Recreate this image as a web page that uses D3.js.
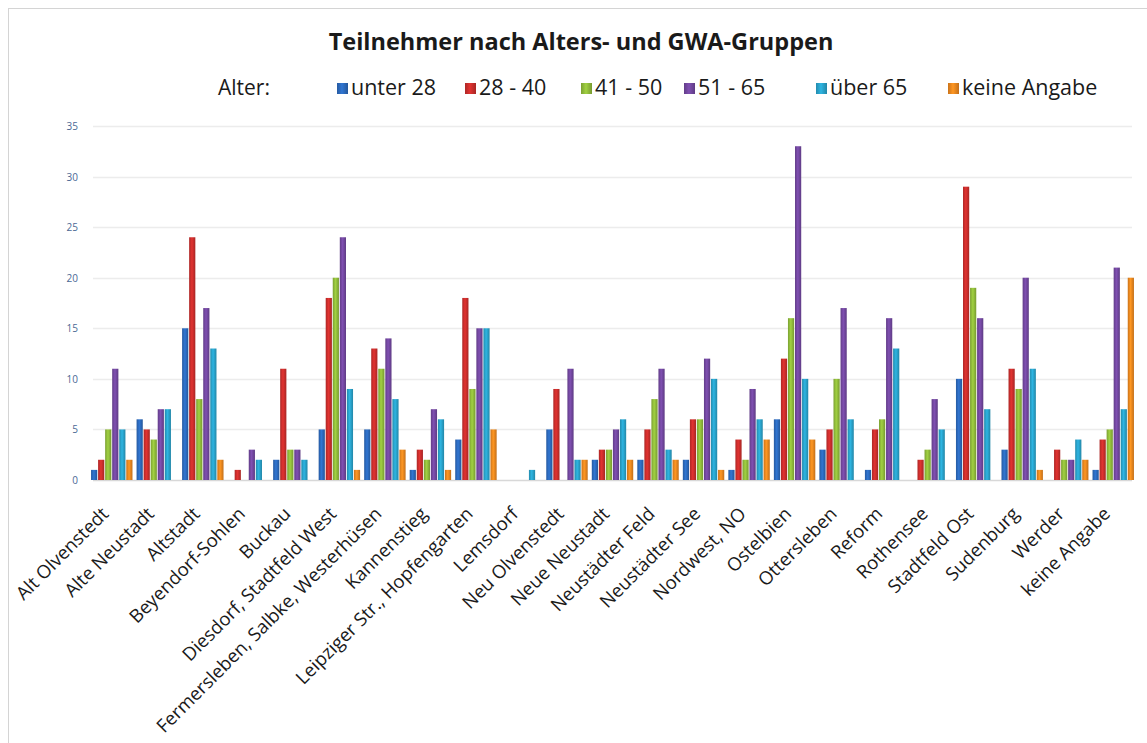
<!DOCTYPE html>
<html>
<head>
<meta charset="utf-8">
<script src="https://cdn.jsdelivr.net/npm/d3@7"></script>
<style>
	body { margin: 0; background: #fff; }
	text { font-family: 'Open Sans', Lato, sans-serif; }
</style>
</head>
<body>
<div id="chart_div" style="width:1147px;height:743px;"></div>
<script>
// chart data
var districts = [
	'Alt Olvenstedt', 'Alte Neustadt', 'Altstadt', 'Beyendorf-Sohlen', 'Buckau',
	'Diesdorf, Stadtfeld West', 'Fermersleben, Salbke, Westerhüsen', 'Kannenstieg',
	'Leipziger Str., Hopfengarten', 'Lemsdorf', 'Neu Olvenstedt', 'Neue Neustadt',
	'Neustädter Feld', 'Neustädter See', 'Nordwest, NO', 'Ostelbien', 'Ottersleben',
	'Reform', 'Rothensee', 'Stadtfeld Ost', 'Sudenburg', 'Werder', 'keine Angabe'
];
var age_groups = ['unter 28', '28 - 40', '41 - 50', '51 - 65', 'über 65', 'keine Angabe'];
var under_28 = [1, 6, 15, 0, 2, 5, 5, 1, 4, 0, 5, 2, 2, 2, 1, 6, 3, 1, 0, 10, 3, 0, 1];
var age_28_40 = [2, 5, 24, 1, 11, 18, 13, 3, 18, 0, 9, 3, 5, 6, 4, 12, 5, 5, 2, 29, 11, 3, 4];
var age_41_50 = [5, 4, 8, 0, 3, 20, 11, 2, 9, 0, 0, 3, 8, 6, 2, 16, 10, 6, 3, 19, 9, 2, 5];
var age_51_65 = [11, 7, 17, 3, 3, 24, 14, 7, 15, 0, 11, 5, 11, 12, 9, 33, 17, 16, 8, 16, 20, 2, 21];
var over_65 = [5, 7, 13, 2, 2, 9, 8, 6, 15, 1, 2, 6, 3, 10, 6, 10, 6, 13, 5, 7, 11, 4, 7];
var no_answer = [2, 0, 2, 0, 0, 1, 3, 1, 5, 0, 2, 2, 2, 1, 4, 4, 0, 0, 0, 0, 1, 2, 20];
var y_ticks = [0, 5, 10, 15, 20, 25, 30, 35];
var bar_colours = ['#2d6cc0', '#cf2f2d', '#93bf3c', '#7549a3', '#2aa6cf', '#f28a1f'];

var series = [under_28, age_28_40, age_41_50, age_51_65, over_65, no_answer];

function draw_chart() {
	var svg = d3.select('#chart_div')
		.append('svg')
		.attr('width', 1147)
		.attr('height', 743);

	// frame
	svg.append('rect')
		.attr('x', 8.5)
		.attr('y', 8.5)
		.attr('width', 1150)
		.attr('height', 750)
		.attr('fill', 'none')
		.attr('stroke', '#d4d4d4');

	var x = d3.scaleBand()
		.domain(districts)
		.range([89, 1136])
		.paddingInner(0.09)
		.paddingOuter(0.045);
	var x_inner = d3.scaleBand()
		.domain(d3.range(age_groups.length))
		.range([0, x.bandwidth()])
		.paddingInner(0.12);
	var y = d3.scaleLinear().domain([0, 35]).range([480, 126]);

	// bar shading
	var defs = svg.append('defs');
	bar_colours.forEach(function (c, i) {
		var grad = defs.append('linearGradient')
			.attr('id', 'bar_grad_' + i)
			.attr('x1', '0%').attr('x2', '100%')
			.attr('y1', '0%').attr('y2', '0%');
		grad.append('stop').attr('offset', '0%').attr('stop-color', d3.color(c).darker(0.5));
		grad.append('stop').attr('offset', '45%').attr('stop-color', d3.color(c).brighter(0.25));
		grad.append('stop').attr('offset', '100%').attr('stop-color', d3.color(c).darker(0.6));
	});

	// grid + y labels
	svg.append('g')
		.selectAll('line')
		.data(y_ticks)
		.enter()
		.append('line')
		.attr('x1', 93)
		.attr('x2', 1132)
		.attr('y1', (d) => Math.round(y(d)) + 0.5)
		.attr('y2', (d) => Math.round(y(d)) + 0.5)
		.attr('stroke', (d) => (d === 0 ? '#d8d8d8' : '#ececec'))
		.attr('stroke-width', 1.5);

	svg.append('g')
		.selectAll('text')
		.data(y_ticks)
		.enter()
		.append('text')
		.attr('x', 78)
		.attr('y', (d) => y(d) + 4)
		.attr('text-anchor', 'end')
		.attr('font-size', 10)
		.attr('fill', '#4a6894')
		.text((d) => d);

	// bars
	var groups = svg.append('g')
		.selectAll('g')
		.data(districts)
		.enter()
		.append('g')
		.attr('transform', (d) => 'translate(' + x(d) + ',0)');

	groups.selectAll('rect')
		.data(function (d, i) {
			return series.map((s, k) => ({ k: k, value: s[i] }));
		})
		.enter()
		.filter((d) => d.value > 0)
		.append('rect')
		.attr('x', (d) => x_inner(d.k))
		.attr('y', (d) => y(d.value))
		.attr('width', x_inner.bandwidth())
		.attr('height', (d) => y(0) - y(d.value))
		.attr('fill', (d) => 'url(#bar_grad_' + d.k + ')');

	// x labels
	svg.append('g')
		.selectAll('text')
		.data(districts)
		.enter()
		.append('text')
		.attr('transform', (d) => 'translate(' + (x(d) + x.bandwidth() / 2 - 2) + ',515) rotate(-45)')
		.attr('text-anchor', 'end')
		.attr('font-size', 18.5)
		.attr('fill', '#1a1a1a')
		.text((d) => d);

	// title
	svg.append('text')
		.attr('x', 581)
		.attr('y', 50)
		.attr('text-anchor', 'middle')
		.attr('font-size', 23.5)
		.attr('font-weight', 'bold')
		.attr('fill', '#1a1a1a')
		.text('Teilnehmer nach Alters- und GWA-Gruppen');

	// legend
	svg.append('text')
		.attr('x', 218)
		.attr('y', 95)
		.attr('font-size', 21)
		.attr('fill', '#1a1a1a')
		.text('Alter:');

	var legend_x = [337, 465, 581, 684, 816, 948];
	var legend = svg.append('g')
		.selectAll('g')
		.data(age_groups)
		.enter()
		.append('g')
		.attr('transform', (d, i) => 'translate(' + legend_x[i] + ',0)');
	legend.append('rect')
		.attr('x', 0)
		.attr('y', 83)
		.attr('width', 11)
		.attr('height', 11)
		.attr('fill', (d, i) => 'url(#bar_grad_' + i + ')');
	legend.append('text')
		.attr('x', 14)
		.attr('y', 95)
		.attr('font-size', 21.5)
		.attr('fill', '#1a1a1a')
		.text((d) => d);
}

draw_chart();
</script>
</body>
</html>
